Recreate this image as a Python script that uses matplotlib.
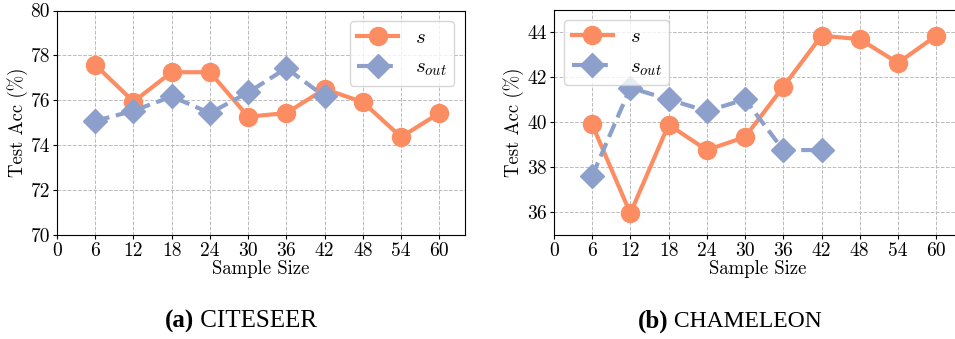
import matplotlib
matplotlib.use("Agg")
import matplotlib.pyplot as plt

plt.rcParams['font.family'] = 'serif'
plt.rcParams['font.serif'] = ['cmr10']
plt.rcParams['mathtext.fontset'] = 'cm'
plt.rcParams['axes.unicode_minus'] = False

# Data
sample_sizes = [6, 12, 18, 24, 30, 36, 42, 48, 54, 60]
xticks = [0, 6, 12, 18, 24, 30, 36, 42, 48, 54, 60]

citeseer_s = [77.58, 75.94, 77.25, 77.25, 75.27, 75.43, 76.50, 75.92, 74.36, 75.43]
citeseer_sout = [75.08, 75.53, 76.17, 75.43, 76.35, 77.43, 76.17]

chameleon_s = [39.91, 35.96, 39.90, 38.77, 39.35, 41.58, 43.85, 43.70, 42.64, 43.85]
chameleon_sout = [37.62, 41.54, 41.02, 40.50, 41.02, 38.77, 38.77]

orange = '#FC8D62'
blue = '#8DA0CB'

fig = plt.figure(figsize=(9.55, 3.39), dpi=100)
ax1 = fig.add_axes([0.0597, 0.307, 0.427, 0.662])
ax2 = fig.add_axes([0.580, 0.307, 0.427, 0.664])

def draw(ax, s, sout, ylim, yticks, loc):
    ax.plot(sample_sizes, s, color=orange, lw=3, marker='o', ms=13, label='$s$')
    ax.plot(sample_sizes[:len(sout)], sout, color=blue, lw=3, ls='--', dashes=(3.5, 1.6),
            marker='D', ms=12, label='$s_{out}$')
    ax.set_xlim(0, 64)
    ax.set_ylim(*ylim)
    ax.set_xticks(xticks)
    ax.set_yticks(yticks)
    ax.grid(True, ls='--', color='#bbbbbb', lw=0.7)
    ax.tick_params(labelsize=14, length=3, pad=2)
    ax.set_xlabel('Sample Size', fontsize=13.5, labelpad=0)
    ax.set_ylabel('Test Acc (%)', fontsize=13.5, labelpad=2)
    ax.legend(loc=loc, fontsize=15, handlelength=2.0, borderpad=0.35, labelspacing=0.55,
              handletextpad=0.8)

draw(ax1, citeseer_s, citeseer_sout, (70, 80), [70, 72, 74, 76, 78, 80], 'upper right')
draw(ax2, chameleon_s, chameleon_sout, (35, 45), [36, 38, 40, 42, 44], 'upper left')

times = ['Liberation Serif', 'DejaVu Serif']
fig.text(0.203, 0.035, '(a)', fontsize=18, fontweight='bold', family=times, ha='right', va='baseline')
fig.text(0.203, 0.035, ' CITESEER', fontsize=18, family=times, ha='left', va='baseline')
fig.text(0.700, 0.035, '(b)', fontsize=18, fontweight='bold', family=times, ha='right', va='baseline')
fig.text(0.700, 0.035, ' CHAMELEON', fontsize=17, family=times, ha='left', va='baseline')

fig.savefig('out.png', dpi=100)
